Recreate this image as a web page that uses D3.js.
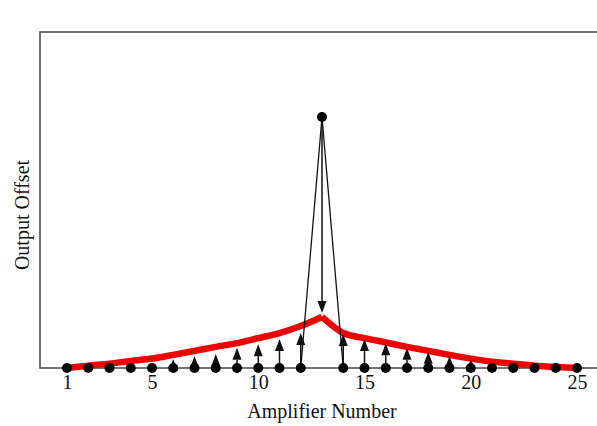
<!DOCTYPE html>
<html>
<head>
<meta charset="utf-8">
<script src="https://cdn.jsdelivr.net/npm/d3@7"></script>
<style>
	body { margin: 0; background: #fff; }
	text { font-family: 'Liberation Serif', 'Times New Roman', serif; fill: #111; }
</style>
</head>
<body>
<div id="chart"></div>
<script>
/* DATA */
const amplifiers = [ 1, 2, 3, 4, 5, 6, 7, 8, 9, 10, 11, 12, 13, 14, 15, 16, 17, 18, 19, 20, 21, 22, 23, 24, 25 ];
// red smoothed offset curve
const offsetCurve = [ 0, 0.7, 1.3, 2.1, 2.8, 3.9, 5.1, 6.3, 7.4, 8.9, 10.4, 12.5, 15.2, 10.4, 8.9, 7.6, 6.3, 5.1, 3.9, 2.8, 1.9, 1.3, 0.7, 0.3, 0 ];
// upward arrow tip heights (0 = no arrow)
const arrowTips = [ 0, 0, 0, 0, 0, 2.7, 3.6, 4.2, 6.0, 7.1, 8.6, 10.4, 0, 10.1, 8.6, 7.4, 6.0, 4.8, 3.6, 2.5, 0, 0, 0, 0, 0 ];
const peakAmp = 13;
const peakValue = 74.7;
const peakArrowTip = 16.4;
const xTicks = [ 1, 5, 10, 15, 20, 25 ];

/* SETUP */
const width = 597;
const height = 426;
const margin = { top: 32, left: 40, bottom: 58 };
const plotBottom = height - margin.bottom;

const svg = d3.select('#chart').append('svg').attr('width', width).attr('height', height);

const xScale = d3.scaleLinear().domain([ 1, 25 ]).range([ 67, 577 ]);
const yScale = d3.scaleLinear().domain([ 0, 100 ]).range([ plotBottom, margin.top ]);

// frame (right side runs off the page)
svg
	.append('rect')
	.attr('x', margin.left)
	.attr('y', margin.top)
	.attr('width', width)
	.attr('height', plotBottom - margin.top)
	.attr('fill', 'none')
	.attr('stroke', '#444')
	.attr('stroke-width', 1.5);

/* X AXIS */
const xAxis = svg
	.append('g')
	.attr('transform', `translate(0, ${plotBottom})`)
	.call(d3.axisBottom(xScale).tickValues(xTicks).tickSize(0).tickPadding(7));
xAxis.select('.domain').remove();
xAxis.selectAll('text').style('font-size', '20px').attr('font-family', null);

svg
	.append('text')
	.attr('x', xScale(13))
	.attr('y', 418)
	.attr('text-anchor', 'middle')
	.style('font-size', '20px')
	.text('Amplifier Number');

svg
	.append('text')
	.attr('transform', `translate(29, 215) rotate(-90)`)
	.attr('text-anchor', 'middle')
	.style('font-size', '20px')
	.text('Output Offset');

/* RED CURVE - two smooth halves meeting in a sharp peak */
const peakIndex = amplifiers.indexOf(peakAmp);
const curvePts = amplifiers.map((a, i) => [ a, offsetCurve[i] ]);
const line = d3.line().x((d) => xScale(d[0])).y((d) => yScale(d[1])).curve(d3.curveMonotoneX);
[ curvePts.slice(0, peakIndex + 1), curvePts.slice(peakIndex) ].forEach(function(half) {
	svg
		.append('path')
		.datum(half)
		.attr('d', line)
		.attr('fill', 'none')
		.attr('stroke', '#f00000')
		.attr('stroke-width', 6.5)
		.attr('stroke-linecap', 'butt');
});

/* PEAK LINES */
const plot = svg.append('g');
[ 12, 14 ].forEach(function(a) {
	plot
		.append('line')
		.attr('x1', xScale(peakAmp))
		.attr('y1', yScale(peakValue))
		.attr('x2', xScale(a))
		.attr('y2', yScale(0))
		.attr('stroke', '#111')
		.attr('stroke-width', 1.3);
});

const HEAD = 12;
const HALF = 4.5;

function arrow(xv, fromV, toV) {
	const x = xScale(xv);
	const y0 = yScale(fromV);
	const y1 = yScale(toV);
	const dir = y1 < y0 ? 1 : -1; // 1 = pointing up
	const base = y1 + dir * HEAD;
	plot.append('line').attr('x1', x).attr('y1', y0).attr('x2', x).attr('y2', base).attr('stroke', '#111').attr('stroke-width', 1.5);
	plot
		.append('path')
		.attr('d', `M${x},${y1}L${x - HALF},${base}L${x + HALF},${base}Z`)
		.attr('fill', '#111');
}

// down arrow from peak
arrow(peakAmp, peakValue, peakArrowTip);

// up arrows
amplifiers.forEach(function(a, i) {
	if (arrowTips[i] > 0) arrow(a, 0, arrowTips[i]);
});

/* DOTS */
plot
	.selectAll('.dot')
	.data(amplifiers.filter((a) => a !== peakAmp))
	.enter()
	.append('circle')
	.attr('class', 'dot')
	.attr('cx', (d) => xScale(d))
	.attr('cy', yScale(0))
	.attr('r', 5)
	.attr('fill', '#000');

plot
	.append('circle')
	.attr('cx', xScale(peakAmp))
	.attr('cy', yScale(peakValue))
	.attr('r', 5)
	.attr('fill', '#000');
</script>
</body>
</html>
